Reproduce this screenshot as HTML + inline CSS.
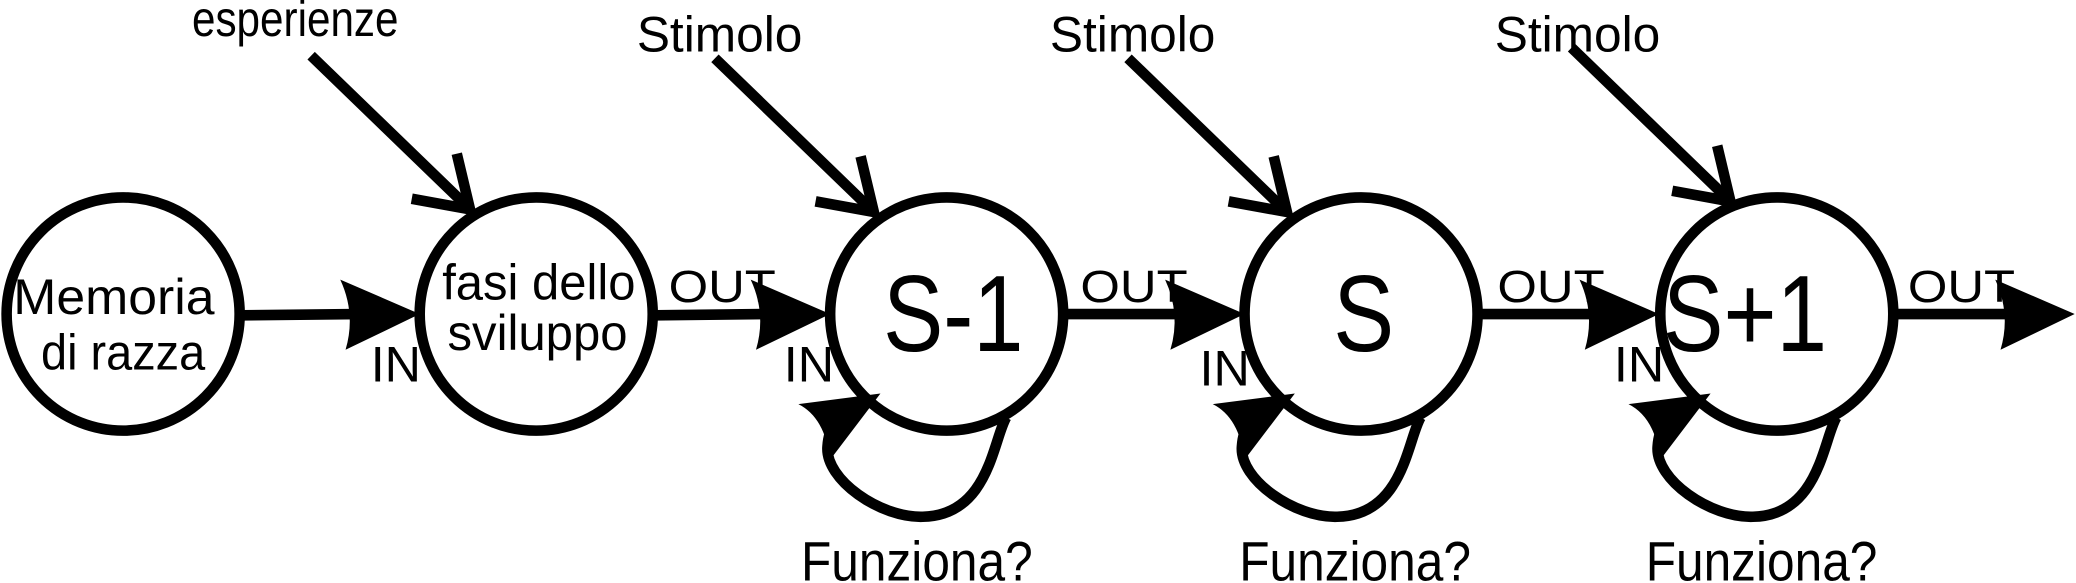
<!DOCTYPE html>
<html><head><meta charset="utf-8"><style>
html,body{margin:0;padding:0;background:#fff;width:2076px;height:583px;overflow:hidden}
svg{display:block}
text{font-family:"Liberation Sans",Arial,sans-serif;fill:#000}
</style></head><body>
<svg width="2076" height="583" viewBox="0 0 1568 440" preserveAspectRatio="none" xmlns="http://www.w3.org/2000/svg">
<defs>
<g id="harrow">
<path d="M0,0 L-60,-26 Q-48,0 -56,27 Z" fill="#000"/>
</g>
<g id="stim">
<line x1="-120" y1="-116" x2="0" y2="0" stroke="#000" stroke-width="8"/>
<polyline points="-10,-42 0,0 -44,-8" fill="none" stroke="#000" stroke-width="8"/>
</g>
<g id="loop">
<path d="M45,78 C35,95 32,152 -18,153 C-50,154 -92,125 -90,100 C-89,85 -82,75 -70,70" fill="none" stroke="#000" stroke-width="8"/>
<path d="M-50,60 L-112,68 Q-92,78 -88,110 Z" fill="#000"/>
</g>
</defs>
<g fill="#fff" stroke="#000" stroke-width="8">
<circle cx="93" cy="237" r="88"/>
<circle cx="405" cy="237" r="88"/>
<circle cx="715" cy="237" r="88"/>
<circle cx="1028" cy="237" r="88"/>
<circle cx="1342" cy="237" r="88"/>
</g>
<g stroke="#000" stroke-width="8">
<line x1="183" y1="238" x2="270" y2="237"/>
<line x1="495" y1="238" x2="580" y2="237"/>
<line x1="805" y1="237" x2="890" y2="237"/>
<line x1="1118" y1="237" x2="1205" y2="237"/>
<line x1="1432" y1="237" x2="1520" y2="237"/>
</g>
<use href="#harrow" x="317" y="237"/>
<use href="#harrow" x="627" y="237"/>
<use href="#harrow" x="940" y="237"/>
<use href="#harrow" x="1253" y="237"/>
<use href="#harrow" x="1567" y="237"/>
<use href="#stim" x="355" y="158"/>
<use href="#stim" x="660" y="160"/>
<use href="#stim" x="972" y="160"/>
<use href="#stim" x="1307" y="152"/>
<g transform="translate(715,237)"><use href="#loop"/></g>
<g transform="translate(1028,237)"><use href="#loop"/></g>
<g transform="translate(1342,237)"><use href="#loop"/></g>
<g font-size="38" lengthAdjust="spacingAndGlyphs">
<text x="10" y="237" textLength="152" lengthAdjust="spacingAndGlyphs">Memoria</text>
<text x="31" y="279" textLength="124" lengthAdjust="spacingAndGlyphs">di razza</text>
<text x="334" y="226" textLength="146" lengthAdjust="spacingAndGlyphs">fasi dello</text>
<text x="338" y="264" textLength="136" lengthAdjust="spacingAndGlyphs">sviluppo</text>
<text x="145" y="27" textLength="156" lengthAdjust="spacingAndGlyphs">esperienze</text>
<text x="481" y="39" textLength="125" lengthAdjust="spacingAndGlyphs">Stimolo</text>
<text x="793" y="39" textLength="125" lengthAdjust="spacingAndGlyphs">Stimolo</text>
<text x="1129" y="39" textLength="125" lengthAdjust="spacingAndGlyphs">Stimolo</text>
</g>
<g font-size="42">
<text x="605" y="438" textLength="175" lengthAdjust="spacingAndGlyphs">Funziona?</text>
<text x="936" y="438" textLength="175" lengthAdjust="spacingAndGlyphs">Funziona?</text>
<text x="1243" y="438" textLength="175" lengthAdjust="spacingAndGlyphs">Funziona?</text>
</g>
<g font-size="38">
<text x="280" y="288" textLength="38" lengthAdjust="spacingAndGlyphs">IN</text>
<text x="592" y="288" textLength="38" lengthAdjust="spacingAndGlyphs">IN</text>
<text x="906" y="291" textLength="38" lengthAdjust="spacingAndGlyphs">IN</text>
<text x="1219" y="288" textLength="38" lengthAdjust="spacingAndGlyphs">IN</text>
</g>
<g font-size="34">
<text x="505" y="228" textLength="81" lengthAdjust="spacingAndGlyphs">OUT</text>
<text x="816" y="228" textLength="81" lengthAdjust="spacingAndGlyphs">OUT</text>
<text x="1131" y="228" textLength="81" lengthAdjust="spacingAndGlyphs">OUT</text>
<text x="1441" y="228" textLength="81" lengthAdjust="spacingAndGlyphs">OUT</text>
</g>
<g font-size="82">
<text x="667" y="265" textLength="106" lengthAdjust="spacingAndGlyphs">S-1</text>
<text x="1007" y="265" textLength="46" lengthAdjust="spacingAndGlyphs">S</text>
<text x="1256" y="265" textLength="124" lengthAdjust="spacingAndGlyphs">S+1</text>
</g>
</svg>
</body></html>
